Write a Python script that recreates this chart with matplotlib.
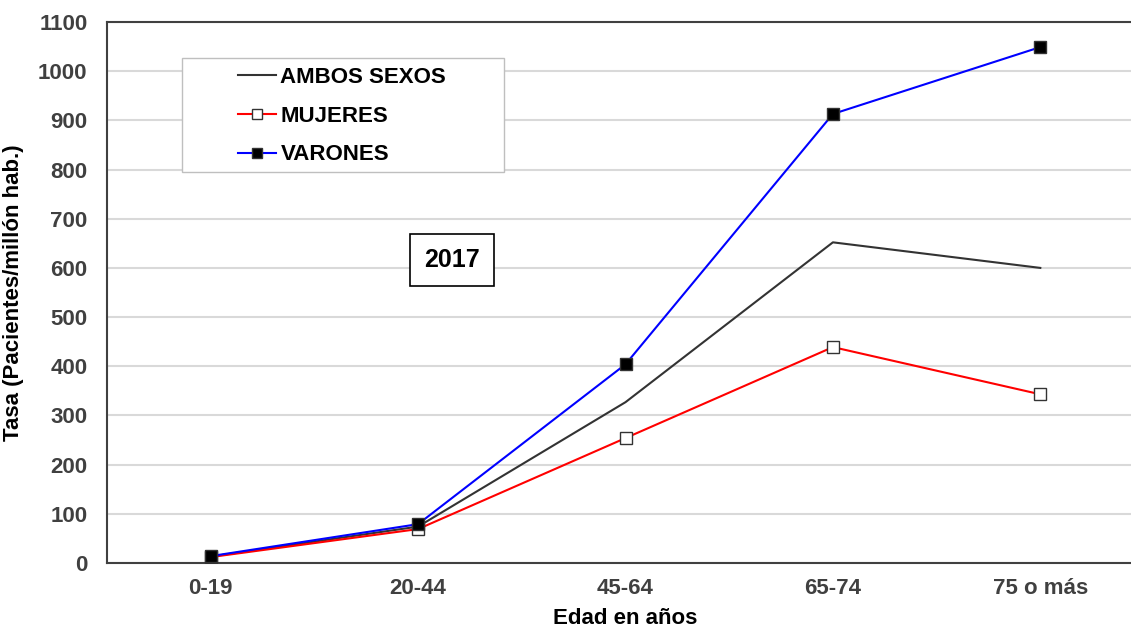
import matplotlib
matplotlib.use("Agg")
import matplotlib.pyplot as plt
from matplotlib.lines import Line2D
from matplotlib.patches import Rectangle

plt.rcParams['font.family'] = ['Liberation Sans', 'DejaVu Sans']

categories = ["0-19", "20-44", "45-64", "65-74", "75 o más"]
ambos = [13, 74, 327, 652, 600]
mujeres = [12, 69, 254, 439, 343]
varones = [14, 79, 404, 913, 1049]
yticks = list(range(0, 1101, 100))

W, H = 1131, 629
fig = plt.figure(figsize=(W / 100, H / 100), dpi=100)
# axes: left 107px, right off-canvas ~1144px, top 22px, bottom 563px
L, R, T, B = 107, 1144, 22, 563
ax = fig.add_axes([L / W, 1 - B / H, (R - L) / W, (B - T) / H])

x = list(range(len(categories)))
ax.plot(x, ambos, color="#333333", lw=1.5, zorder=3)
ax.plot(x, mujeres, color="#ff0000", lw=1.5, marker="s", ms=8,
        mfc="white", mec="#333333", mew=1, zorder=4)
ax.plot(x, varones, color="#0000ff", lw=1.5, marker="s", ms=8,
        mfc="black", mec="#333333", mew=1, zorder=5)

ax.set_xlim(-0.5, 4.5)
ax.set_ylim(0, 1100)
ax.set_yticks(yticks)
ax.set_xticks(x)
ax.set_xticklabels(categories)
ax.grid(axis="y", color="#d9d9d9", lw=1.5)
ax.set_axisbelow(True)
ax.tick_params(axis="both", length=0, labelsize=16, labelcolor="#404040")
ax.tick_params(axis="y", pad=14)
ax.tick_params(axis="x", pad=11)
for lab in ax.get_xticklabels() + ax.get_yticklabels():
    lab.set_fontweight("bold")

for s in ["left", "bottom", "top"]:
    ax.spines[s].set_color("#404040")
    ax.spines[s].set_linewidth(1.5)
ax.spines["right"].set_visible(False)

ax.set_ylabel("Tasa (Pacientes/millón hab.)", fontsize=16, fontweight="bold", labelpad=10)
ax.set_xlabel("Edad en años", fontsize=16, fontweight="bold", labelpad=6)

# legend frame (wider than content, as in the original)
def fx(px):
    return px / W

def fy(py):
    return 1 - py / H

fig.patches.append(Rectangle((fx(182), fy(172)), fx(504) - fx(182), fy(58) - fy(172),
                             transform=fig.transFigure, fc="white", ec="#bfbfbf",
                             lw=1, zorder=5))

handles = [
    Line2D([], [], color="#333333", lw=1.5),
    Line2D([], [], color="#ff0000", lw=1.5, marker="s", ms=7, mfc="white", mec="#333333"),
    Line2D([], [], color="#0000ff", lw=1.5, marker="s", ms=7, mfc="black", mec="#333333"),
]
leg = fig.legend(handles, ["AMBOS SEXOS", "MUJERES", "VARONES"],
                 loc="upper left", bbox_to_anchor=(fx(230), fy(59)),
                 borderaxespad=0, frameon=False,
                 prop={"weight": "bold", "size": 16}, handlelength=1.7,
                 handletextpad=0.22, labelspacing=0.8, borderpad=0.35)
leg.set_zorder(6)

ax.text(1.163, 616, "2017", fontsize=18, fontweight="bold", ha="center", va="center",
        bbox=dict(boxstyle="square,pad=0.55", fc="white", ec="black", lw=1.2), zorder=6)

fig.savefig("out.png", dpi=100)
